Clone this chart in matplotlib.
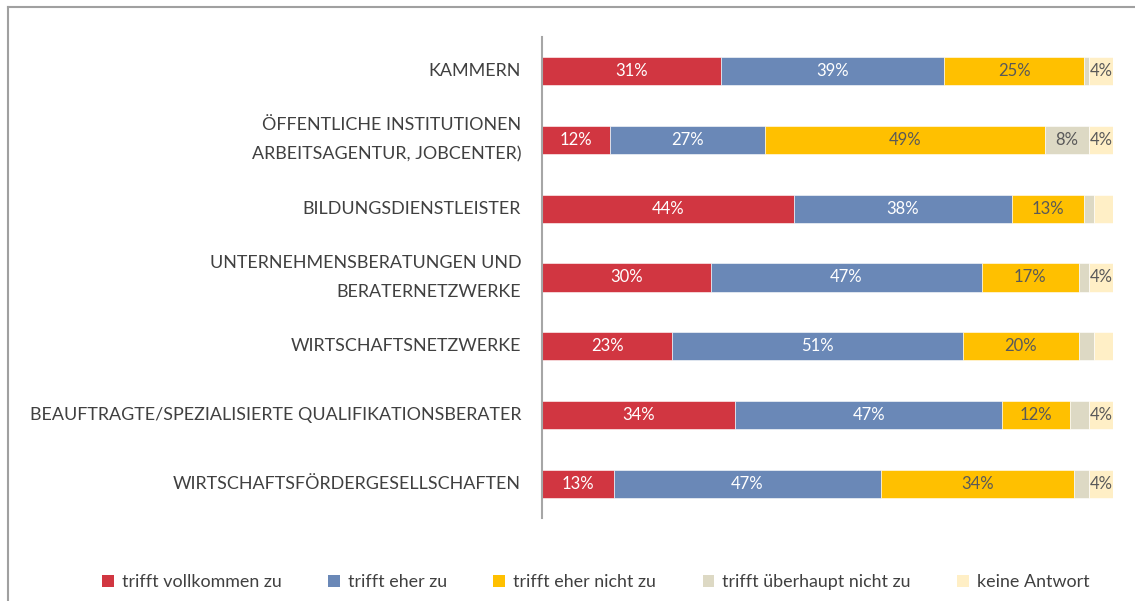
import matplotlib
matplotlib.use("Agg")
import matplotlib.pyplot as plt
from matplotlib.patches import Patch
from matplotlib.lines import Line2D
import numpy as np

plt.rcParams['font.family'] = ['Lato', 'DejaVu Sans']

categories = [
    "KAMMERN",
    "ÖFFENTLICHE INSTITUTIONEN\nARBEITSAGENTUR, JOBCENTER)",
    "BILDUNGSDIENSTLEISTER",
    "UNTERNEHMENSBERATUNGEN UND\nBERATERNETZWERKE",
    "WIRTSCHAFTSNETZWERKE",
    "BEAUFTRAGTE/SPEZIALISIERTE QUALIFIKATIONSBERATER",
    "WIRTSCHAFTSFÖRDERGESELLSCHAFTEN",
]
series_names = ["trifft vollkommen zu", "trifft eher zu", "trifft eher nicht zu",
                "trifft überhaupt nicht zu", "keine Antwort"]
vollkommen = [31.3, 11.9, 44.1, 29.6, 22.8, 33.8, 12.6]
eher = [39.1, 27.1, 38.2, 47.4, 50.9, 46.8, 46.8]
eher_nicht = [24.6, 49.1, 12.6, 17.0, 20.3, 11.9, 33.8]
ueberhaupt_nicht = [0.8, 7.7, 1.8, 1.8, 2.6, 3.3, 2.6]
keine_antwort = [4.2, 4.2, 3.3, 4.2, 3.4, 4.2, 4.2]

series = [vollkommen, eher, eher_nicht, ueberhaupt_nicht, keine_antwort]
colors = ["#D13641", "#6A88B7", "#FFC000", "#DDD9C4", "#FFEFC6"]
text_colors = ["white", "white", "#595959", "#595959", "#595959"]

fig = plt.figure(figsize=(11.35, 6.01), dpi=100)
ax = fig.add_axes([542/1135, 1-518/601, (1113-542)/1135, (518-37)/601])

y = np.arange(len(categories))
left = np.zeros(len(categories))
for vals, col, tcol in zip(series, colors, text_colors):
    vals = np.array(vals)
    ax.barh(y, vals, left=left, height=0.41, color=col, edgecolor='white', linewidth=0.4)
    for yi, (l, v) in enumerate(zip(left, vals)):
        if v >= 3.5:
            ax.text(l + v/2, yi, f"{round(v):d}%", ha='center', va='center',
                    color=tcol, fontsize=12)
    left += vals

ax.set_xlim(0, 100)
ax.set_ylim(len(categories)-0.5, -0.5)
ax.set_yticks(y)
ax.set_yticklabels(categories, fontsize=12.9, color='#404040', linespacing=2.0)
ax.tick_params(axis='y', length=0, pad=15)
ax.set_xticks([])
for s in ['top', 'right', 'bottom']:
    ax.spines[s].set_visible(False)
ax.spines['left'].set_color('#A6A6A6')
ax.spines['left'].set_linewidth(1.5)
for lab in ax.get_yticklabels():
    lab.set_horizontalalignment('right')
    lab.set_verticalalignment('center')

handles = [Patch(facecolor=c, edgecolor='none') for c in colors]
fig.legend(handles, series_names, loc='center', bbox_to_anchor=(0.525, 1-582/601),
           ncol=5, frameon=False, fontsize=12.9, handlelength=0.65, handleheight=0.65,
           handletextpad=0.45, columnspacing=2.6, labelcolor='#404040')

# outer frame
fig.add_artist(Line2D([8/1135, 1.0], [1-7/601, 1-7/601], color='#A0A0A0', lw=1.5,
                      transform=fig.transFigure))
fig.add_artist(Line2D([8/1135, 8/1135], [1-7/601, 0], color='#A0A0A0', lw=1.5,
                      transform=fig.transFigure))

fig.savefig("out.png", dpi=100)
